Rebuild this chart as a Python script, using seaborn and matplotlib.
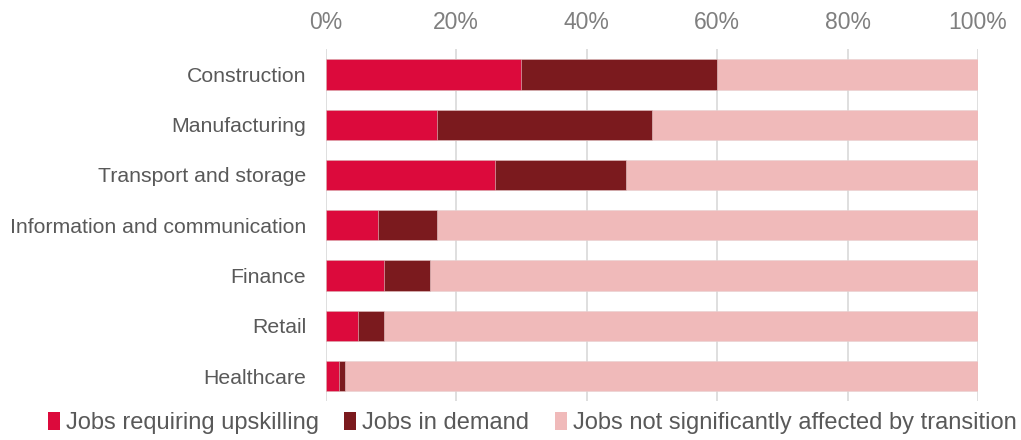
import matplotlib
matplotlib.use("Agg")
import matplotlib.pyplot as plt
import seaborn as sns
import pandas as pd
from matplotlib.patches import Patch
from matplotlib.ticker import PercentFormatter

categories = ["Construction", "Manufacturing", "Transport and storage",
              "Information and communication", "Finance", "Retail", "Healthcare"]
upskilling = [30, 17, 26, 8, 9, 5, 2]
in_demand = [30, 33, 20, 9, 7, 4, 1]
not_affected = [40, 50, 54, 83, 84, 91, 97]
series_names = ["Jobs requiring upskilling", "Jobs in demand",
                "Jobs not significantly affected by transition"]
colors = ["#DC0A3C", "#7B1A1E", "#F0BABA"]

sns.set_theme(style="white")
plt.rcParams['font.family'] = ['Liberation Sans', 'DejaVu Sans']

df = pd.DataFrame({
    "category": categories,
    "c1": upskilling,
    "c2": [a + b for a, b in zip(upskilling, in_demand)],
    "c3": [a + b + c for a, b, c in zip(upskilling, in_demand, not_affected)],
})

fig = plt.figure(figsize=(10.21, 4.40), dpi=100)
ax = fig.add_axes([0.319, 0.088, 0.639, 0.80])

for col, color in zip(["c3", "c2", "c1"], colors[::-1]):
    sns.barplot(data=df, x=col, y="category", orient="h", color=color,
                saturation=1, width=0.6, edgecolor="#E8D0D0", linewidth=0.4,
                ax=ax, zorder=2)

ax.set_xlim(0, 100)
ax.set_xticks([0, 20, 40, 60, 80, 100])
ax.xaxis.set_major_formatter(PercentFormatter(decimals=0))
ax.xaxis.tick_top()
ax.set_xlabel("")
ax.set_ylabel("")
ax.grid(axis="x", color="#D9D9D9", linewidth=1.2, zorder=0)
ax.set_axisbelow(True)
for s in ax.spines.values():
    s.set_visible(False)
ax.tick_params(axis="x", length=0, pad=11, labelsize=16.5, labelcolor="#7F7F7F")
ax.tick_params(axis="y", length=0, pad=14, labelsize=15.3, labelcolor="#595959")

handles = [Patch(facecolor=c, edgecolor="none") for c in colors]
fig.legend(handles, series_names, loc="lower left", bbox_to_anchor=(0.026, -0.035),
           ncol=3, frameon=False, fontsize=17, handlelength=0.5, handleheight=0.75,
           handletextpad=0.25, columnspacing=1.1, labelcolor="#595959")

fig.savefig("out.png", dpi=100)
